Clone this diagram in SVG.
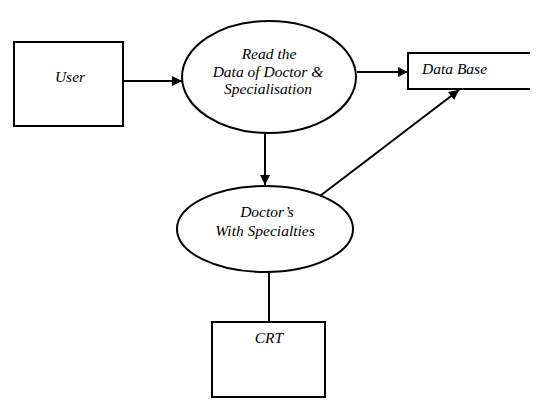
<svg xmlns="http://www.w3.org/2000/svg" width="543" height="417" viewBox="0 0 543 417">
<style>
.s{fill:#fff;stroke:#000;stroke-width:2}
.l{fill:none;stroke:#000;stroke-width:2}
.t{font-family:'Liberation Serif','Times New Roman',serif;font-style:italic;font-size:15.5px;fill:#000}
.c{text-anchor:middle}
</style>
<defs>
<marker id="a" viewBox="0 0 10 10" refX="10" refY="5" markerWidth="5" markerHeight="5" orient="auto" markerUnits="strokeWidth">
<path d="M0,0 L10,5 L0,10 z" fill="#000"/>
</marker>
</defs>
<rect width="543" height="417" fill="#fff"/>
<g id="user">
<rect class="s" x="14" y="42" width="109" height="84"/>
<text class="t c" x="70" y="82">User</text>
</g>
<g id="read">
<ellipse class="s" cx="269" cy="77" rx="87" ry="56"/>
<text class="t c" x="269" y="59">Read the</text>
<text class="t c" x="268" y="77">Data of Doctor &amp;</text>
<text class="t c" x="268" y="94">Specialisation</text>
</g>
<g id="database">
<path class="l" d="M530,53 H408 V89 H530"/>
<text class="t" x="422" y="74">Data Base</text>
</g>
<g id="doctors">
<ellipse class="s" cx="265" cy="229" rx="88" ry="43"/>
<text class="t c" x="267" y="217">Doctor’s</text>
<text class="t c" x="265" y="236">With Specialties</text>
</g>
<g id="crt">
<rect class="s" x="212" y="322" width="113" height="75"/>
<text class="t c" x="269" y="343">CRT</text>
</g>
<g id="connectors">
<line class="l" x1="123" y1="81" x2="182" y2="81" marker-end="url(#a)"/>
<line class="l" x1="357" y1="72" x2="408" y2="72" marker-end="url(#a)"/>
<line class="l" x1="265" y1="133" x2="265" y2="185" marker-end="url(#a)"/>
<line class="l" x1="320" y1="196" x2="459" y2="90" marker-end="url(#a)"/>
<line class="l" x1="269" y1="272" x2="269" y2="322"/>
</g>
</svg>
